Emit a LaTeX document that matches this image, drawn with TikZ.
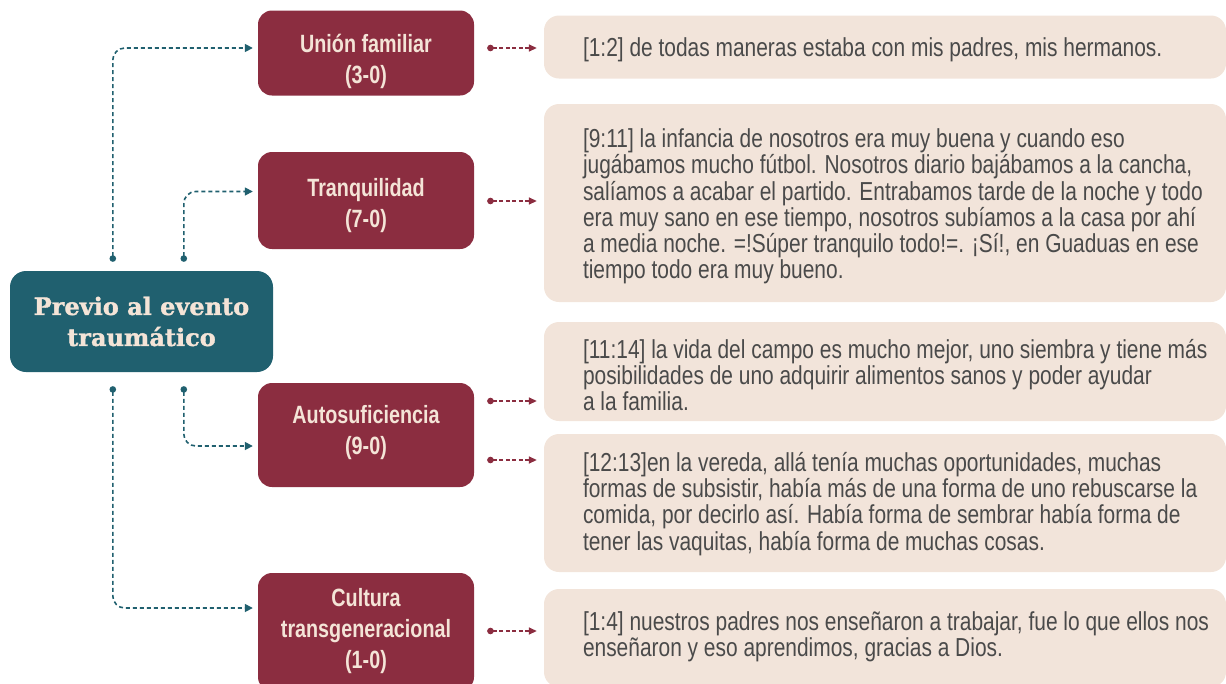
\documentclass[tikz,border=0pt]{standalone}
\usepackage{fontspec}
\usetikzlibrary{arrows.meta,calc}
\newfontfamily\bodyfont{Liberation Sans}[FakeStretch=0.805]
\newfontfamily\labfont{Liberation Sans}[FakeStretch=0.79]
\newfontfamily\titlefont{DejaVu Serif}[FakeBold=1.5]
\definecolor{tealc}{HTML}{20606F}
\definecolor{redc}{HTML}{8B2D40}
\definecolor{beigec}{HTML}{F2E4DA}
\definecolor{creamc}{HTML}{F4E4D7}
\definecolor{txtc}{HTML}{4A4A4A}
\tikzset{
  rootbox/.style={fill=tealc, rounded corners=16pt, minimum width=263pt, minimum height=101pt,
    text=creamc, align=center, inner sep=0pt,
    font=\titlefont\bfseries\fontsize{24}{31}\selectfont},
  catbox/.style={fill=redc, rounded corners=14pt, minimum width=216pt, inner sep=0pt},
  cattext/.style={text=creamc, align=center, inner sep=0pt,
    font=\labfont\bfseries\fontsize{25}{31}\selectfont},
  quotebox/.style={fill=beigec, rounded corners=15pt, minimum width=682pt, inner sep=0pt},
  quotetext/.style={anchor=west, align=left, inner sep=0pt, text=txtc,
    font=\bodyfont\fontsize{26}{26.2}\selectfont},
  tealconn/.style={draw=tealc, line width=1.6pt, dash pattern=on 4pt off 3pt, rounded corners=12pt,
    {Circle[length=6.5pt]}-{Triangle[length=8pt,width=8pt]}},
  redconn/.style={draw=redc, line width=1.6pt, dash pattern=on 4pt off 2.5pt,
    {Circle[length=6.5pt]}-{Triangle[length=8pt,width=7pt]}},
}
\begin{document}
\begin{tikzpicture}[x=1pt,y=-1pt]
\useasboundingbox (0,0) rectangle (1226,683);
\begin{scope}
\clip (0,0) rectangle (1226,683);
% root
\node[rootbox] (root) at (141.5,321.5) {Previo al evento\\traumático};
% category boxes
\node[catbox, minimum height=85pt] (b1) at (366,53) {};
\node[catbox, minimum height=97pt] (b2) at (366,200.5) {};
\node[catbox, minimum height=104pt] (b3) at (366,435) {};
\node[catbox, minimum height=118pt] (b4) at (366,632) {};
\node[cattext] (l1) at ($(b1)+(0,8)$) {Unión familiar\\(3-0)};
\node[cattext] (l2) at ($(b2)+(0,5)$) {Tranquilidad\\(7-0)};
\node[cattext] (l3) at ($(b3)+(0,-2.5)$) {Autosuficiencia\\(9-0)};
\node[cattext] (l4) at ($(b4)+(0,-1)$) {Cultura\\transgeneracional\\(1-0)};
% quote boxes
\node[quotebox, minimum height=63pt] (q1) at (885,47) {};
\node[quotebox, minimum height=198pt] (q2) at (885,203) {};
\node[quotebox, minimum height=99pt] (q3) at (885,371.5) {};
\node[quotebox, minimum height=138pt] (q4) at (885,503) {};
\node[quotebox, minimum height=98pt] (q5) at (885,638) {};
% quote texts
\node[quotetext] (t1) at ($(q1.west)+(39,3)$) {[1:2] de todas maneras estaba con mis padres, mis hermanos.};
\node[quotetext] (t2) at ($(q2.west)+(39,3.5)$) {[9:11] la infancia de nosotros era muy buena y cuando eso\\
jugábamos mucho fútbol. Nosotros diario bajábamos a la cancha,\\
salíamos a acabar el partido. Entrabamos tarde de la noche y todo\\
era muy sano en ese tiempo, nosotros subíamos a la casa por ahí\\
a media noche. =!Súper tranquilo todo!=. ¡Sí!, en Guaduas en ese\\
tiempo todo era muy bueno.};
\node[quotetext] (t3) at ($(q3.west)+(39,3.5)$) {[11:14] la vida del campo es mucho mejor, uno siembra y tiene más\\
posibilidades de uno adquirir alimentos sanos y poder ayudar\\
a la familia.};
\node[quotetext] (t4) at ($(q4.west)+(39,1)$) {[12:13]en la vereda, allá tenía muchas oportunidades, muchas\\
formas de subsistir, había más de una forma de uno rebuscarse la\\
comida, por decirlo así. Había forma de sembrar había forma de\\
tener las vaquitas, había forma de muchas cosas.};
\node[quotetext] (t5) at ($(q5.west)+(39,-1)$) {[1:4] nuestros padres nos enseñaron a trabajar, fue lo que ellos nos\\
enseñaron y eso aprendimos, gracias a Dios.};
% teal connectors
\coordinate (d1) at ($(root.north west)+(103,-9)$);
\coordinate (d2) at ($(root.north west)+(174,-9)$);
\coordinate (d3) at ($(root.south west)+(174,14)$);
\coordinate (d4) at ($(root.south west)+(103,14)$);
\draw[tealconn, shorten >=5pt] (d1) |- ($(b1.west)+(0,-5)$);
\draw[tealconn, shorten >=5pt] (d2) |- ($(b2.west)+(0,-9)$);
\draw[tealconn, shorten >=5pt] (d3) |- ($(b3.west)+(0,11)$);
\draw[tealconn, shorten >=5pt] (d4) |- ($(b4.west)+(0,-24)$);
% red connectors
\coordinate (s1) at ($(b1.east)+(13,-5)$);
\coordinate (s2) at ($(b2.east)+(13,0.5)$);
\coordinate (s3) at ($(b3.east)+(13,-34)$);
\coordinate (s4) at ($(b3.east)+(13,25)$);
\coordinate (s5) at ($(b4.east)+(13,-1)$);
\draw[redconn, shorten >=7pt] (s1) -- (s1 -| q1.west);
\draw[redconn, shorten >=7pt] (s2) -- (s2 -| q2.west);
\draw[redconn, shorten >=7pt] (s3) -- (s3 -| q3.west);
\draw[redconn, shorten >=7pt] (s4) -- (s4 -| q4.west);
\draw[redconn, shorten >=7pt] (s5) -- (s5 -| q5.west);
\end{scope}
\end{tikzpicture}
\end{document}
